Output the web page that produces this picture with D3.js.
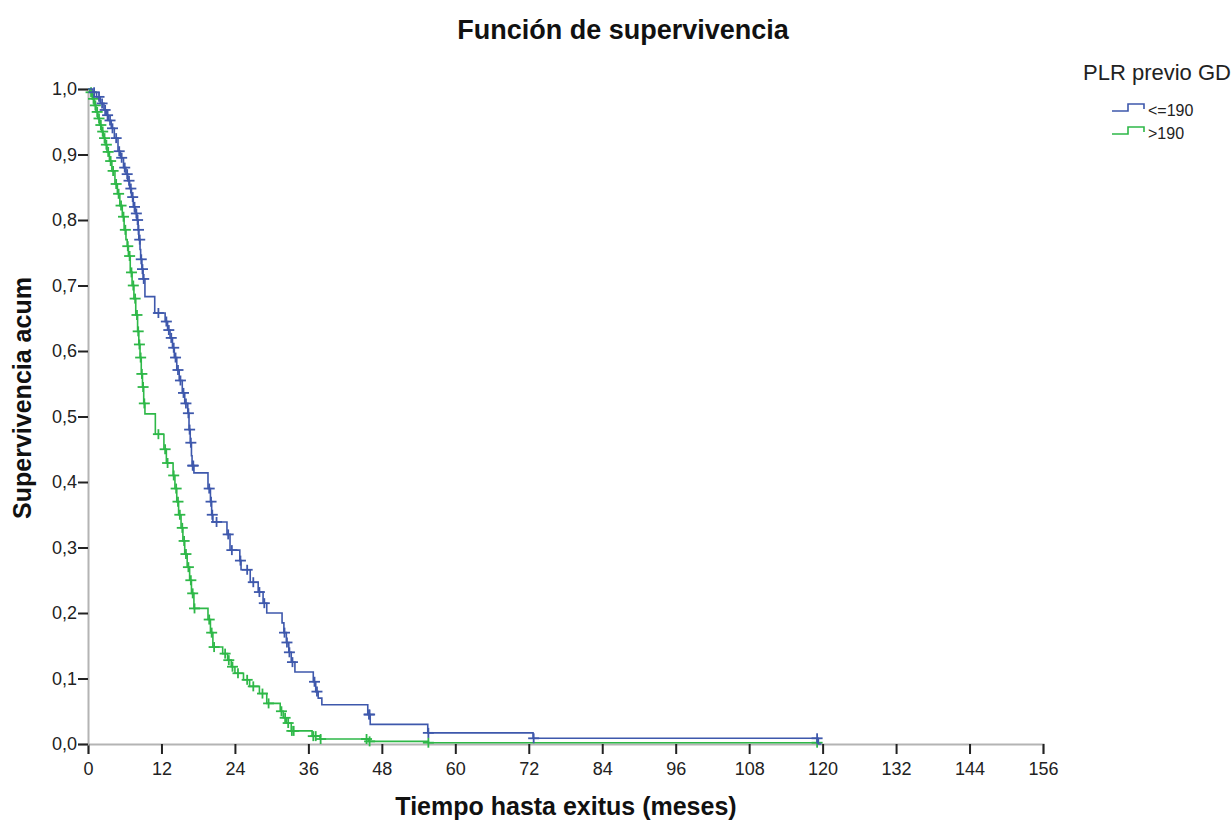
<!DOCTYPE html>
<html>
<head>
<meta charset="utf-8">
<script src="https://cdn.jsdelivr.net/npm/d3@7"></script>
<style>
html,body{margin:0;padding:0;background:#fff;}
svg{display:block;font-family:"Liberation Sans",Arial,sans-serif;}
</style>
</head>
<body>
<svg id="chart" width="1232" height="823"></svg>
<script>
// ---- data ----
const chartTitle = "Función de supervivencia";
const xLabel = "Tiempo hasta exitus (meses)";
const yLabel = "Supervivencia acum";
const legendTitle = "PLR previo GD";
const groupNames = ["<=190", ">190"];
const xTicks = [0,12,24,36,48,60,72,84,96,108,120,132,144,156];
const yTicks = [0,0.1,0.2,0.3,0.4,0.5,0.6,0.7,0.8,0.9,1.0];

// group "<=190": event times and survival after each event
const lowTimes = [0,0.8,1.4,2.0,2.6,3.0,3.3,3.8,4.3,4.9,5.3,5.8,6.2,6.5,6.8,7.1,7.4,7.7,8.0,8.2,8.3,8.5,8.6,8.8,9.0,9.3,
  10.9,12.6,13.0,13.4,13.8,14.1,14.5,14.9,15.4,15.8,16.3,16.5,16.7,16.9,17.0,17.3,
  19.6,20.0,20.2,20.4,22.7,23.2,24.8,25.0,26.5,27.8,28.6,29.2,
  31.7,32.0,32.4,32.8,33.2,33.8,36.8,37.2,37.6,38.2,45.7,46.1,55.5,72.7,119.3];
const lowSurv = [1,0.995,0.988,0.978,0.968,0.96,0.952,0.94,0.925,0.905,0.895,0.88,0.87,0.86,0.848,0.835,0.82,0.81,0.80,0.785,0.77,0.755,0.74,0.725,0.71,0.683,
  0.658,0.645,0.632,0.62,0.605,0.59,0.571,0.555,0.536,0.52,0.505,0.48,0.46,0.44,0.425,0.414,
  0.39,0.37,0.35,0.339,0.32,0.296,0.28,0.266,0.247,0.232,0.215,0.2,
  0.185,0.17,0.155,0.14,0.125,0.11,0.095,0.08,0.07,0.06,0.045,0.03,0.017,0.0087,0];
const lowEnd = 119.8;
const lowCensor = [1.0,1.8,2.3,2.8,3.2,3.6,4.0,4.6,5.1,5.5,6.0,6.4,6.7,7.0,7.3,7.6,7.9,8.1,8.25,8.45,8.7,8.9,9.1,
  11.5,12.8,13.2,13.6,14.0,14.3,14.7,15.1,15.6,16.0,16.4,16.6,16.8,17.1,17.2,
  19.8,20.1,20.3,21.0,22.9,23.5,24.9,26.0,27.0,28.0,28.8,
  32.1,32.5,32.9,33.4,37.0,37.4,45.9,46.0,55.6,72.8,119.1];

// group ">190"
const highTimes = [0,0.3,0.7,1.0,1.3,1.6,1.9,2.2,2.5,2.8,3.1,3.5,3.9,4.4,4.8,5.2,5.6,5.9,6.2,6.4,6.6,6.9,7.2,7.5,7.8,8.1,8.3,8.5,8.7,8.9,9.1,9.3,
  11.0,12.4,12.8,13.9,14.2,14.5,14.8,15.2,15.5,15.8,16.2,16.6,16.9,17.3,
  19.6,20.0,20.4,22.0,22.8,23.4,24.0,25.4,26.4,28.0,29.2,31.4,31.9,32.4,33.2,36.6,37.9,45.8,55.6];
const highSurv = [1,0.995,0.985,0.975,0.965,0.955,0.945,0.935,0.925,0.915,0.904,0.89,0.875,0.855,0.84,0.822,0.805,0.785,0.77,0.76,0.745,0.72,0.70,0.68,0.655,0.63,0.61,0.59,0.565,0.545,0.52,0.504,
  0.473,0.45,0.429,0.41,0.39,0.37,0.35,0.33,0.31,0.29,0.27,0.25,0.23,0.207,
  0.19,0.17,0.148,0.138,0.128,0.118,0.108,0.098,0.088,0.077,0.062,0.05,0.04,0.032,0.02,0.012,0.0076,0.004,0.002];
const highEnd = 119.1;
const highCensor = [0.5,0.9,1.2,1.5,1.8,2.1,2.4,2.7,3.0,3.3,3.7,4.1,4.6,5.0,5.4,5.8,6.1,6.5,6.8,7.1,7.4,7.7,8.0,8.2,8.4,8.6,8.8,9.0,9.2,
  11.5,12.6,13.0,14.0,14.4,14.7,15.0,15.4,15.7,16.0,16.4,16.8,17.1,17.4,
  19.8,20.2,20.6,22.4,23.0,23.6,24.5,26.0,27.0,28.5,29.5,31.6,32.2,32.7,33.3,33.6,36.8,37.2,38.0,45.5,46.0,55.6,119.1];

const colors = ["#3e58ac", "#2eb848"];

// ---- drawing ----
const svg = d3.select("#chart");
const x = d3.scaleLinear().domain([0,156]).range([88,1043]);
const y = d3.scaleLinear().domain([0,1]).range([744,89]);
const fmt = v => d3.format(".1f")(v).replace(".", ",");

// axes
const xAxis = d3.axisBottom(x).tickValues(xTicks).tickSize(10).tickPadding(8).tickFormat(d3.format("d"));
const gx = svg.append("g").attr("transform","translate(0,744)").call(xAxis);
gx.attr("font-size",18).attr("font-family","Liberation Sans, Arial, sans-serif");
gx.select(".domain").attr("stroke","#b4b4b4").attr("stroke-width",2);
gx.selectAll(".tick line").attr("stroke","#222").attr("stroke-width",2);
gx.selectAll(".tick text").attr("fill","#222");

const yAxis = d3.axisLeft(y).tickValues(yTicks).tickSize(10).tickPadding(1).tickFormat(fmt);
const gy = svg.append("g").attr("transform","translate(88,0)").call(yAxis);
gy.attr("font-size",18).attr("font-family","Liberation Sans, Arial, sans-serif");
gy.select(".domain").attr("stroke","#b4b4b4").attr("stroke-width",2);
gy.selectAll(".tick line").attr("stroke","#222").attr("stroke-width",2);
gy.selectAll(".tick text").attr("fill","#222");

// curves
const groups = [
  {times: lowTimes, surv: lowSurv, end: lowEnd, censor: lowCensor, color: colors[0]},
  {times: highTimes, surv: highSurv, end: highEnd, censor: highCensor, color: colors[1]}
];
const line = d3.line().x(d=>x(d[0])).y(d=>y(d[1])).curve(d3.curveStepAfter);
function survAt(g, t){
  let s = 1;
  for(let i=0;i<g.times.length;i++){ if(g.times[i] <= t) s = g.surv[i]; }
  return s;
}
[groups[1], groups[0]].forEach(g => {
  const pts = g.times.map((t,i)=>[t, g.surv[i]]);
  pts.push([g.end, g.surv[g.surv.length-1]]);
  svg.append("path").datum(pts).attr("d", line)
    .attr("fill","none").attr("stroke", g.color).attr("stroke-width",1.6);
  const cg = svg.append("g").attr("stroke", g.color).attr("stroke-width",1.8);
  g.censor.forEach(t => {
    const cx = x(t), cy = y(survAt(g,t));
    cg.append("line").attr("x1",cx-5.5).attr("x2",cx+5.5).attr("y1",cy).attr("y2",cy);
    cg.append("line").attr("x1",cx).attr("x2",cx).attr("y1",cy-5).attr("y2",cy+5);
  });
});

// titles
svg.append("text").attr("x",623).attr("y",39).attr("text-anchor","middle")
  .attr("font-size",27).attr("font-weight","bold").attr("fill","#111").text(chartTitle);
svg.append("text").attr("x",566).attr("y",815).attr("text-anchor","middle")
  .attr("font-size",25).attr("font-weight","bold").attr("fill","#111").text(xLabel);
svg.append("text").attr("transform","translate(31,398) rotate(-90)").attr("text-anchor","middle")
  .attr("font-size",25).attr("font-weight","bold").attr("fill","#111").text(yLabel);

// legend
svg.append("text").attr("x",1083).attr("y",80).attr("font-size",22).attr("fill","#222").text(legendTitle);
const symX = d3.scaleLinear().domain([0,1]).range([1112,1144]);
groupNames.forEach((name,i) => {
  const base = 111 + i*23;
  const sym = [[0,base],[0.5,base],[0.5,base-7],[1,base-7],[1,base-2]];
  svg.append("path").datum(sym)
    .attr("d", d3.line().x(d=>symX(d[0])).y(d=>d[1]))
    .attr("fill","none").attr("stroke",colors[i]).attr("stroke-width",1.6);
  svg.append("text").attr("x",1148).attr("y",base+5).attr("font-size",16).attr("fill","#222").text(name);
});
</script>
</body>
</html>
